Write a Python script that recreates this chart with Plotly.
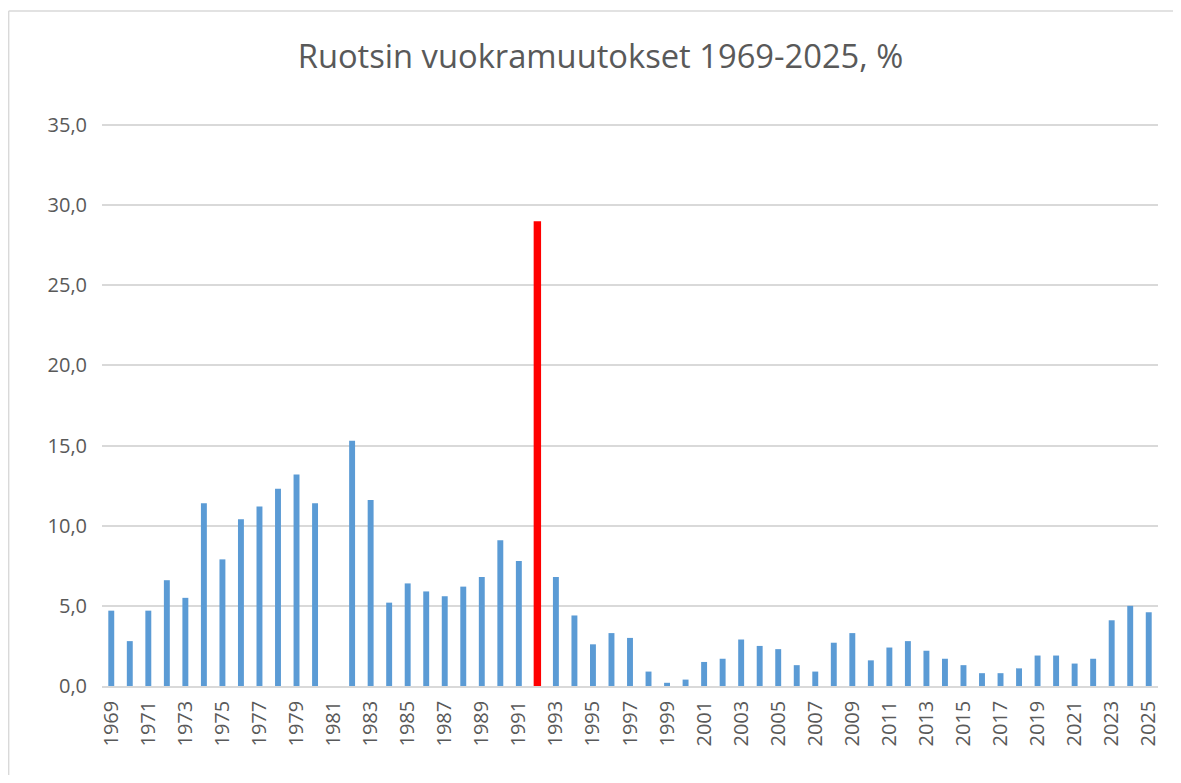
import plotly.graph_objects as go

years = list(range(1969, 2026))
muutos = [4.7, 2.8, 4.7, 6.6, 5.5, 11.4, 7.9, 10.4, 11.2, 12.3,
          13.2, 11.4, 0.0, 15.3, 11.6, 5.2, 6.4, 5.9, 5.6, 6.2,
          6.8, 9.1, 7.8, 29.0, 6.8, 4.4, 2.6, 3.3, 3.0, 0.9,
          0.2, 0.4, 1.5, 1.7, 2.9, 2.5, 2.3, 1.3, 0.9, 2.7,
          3.3, 1.6, 2.4, 2.8, 2.2, 1.7, 1.3, 0.8, 0.8, 1.1,
          1.9, 1.9, 1.4, 1.7, 4.1, 5.0, 4.6]
korostus = 1992  # red bar
tick_years = list(range(1969, 2026, 2))

colors = ["#FF0000" if y == korostus else "#5B9BD5" for y in years]
widths = [0.4 if y == korostus else 0.32 for y in years]

fig = go.Figure()
fig.add_trace(
    go.Bar(
        x=years,
        y=muutos,
        width=widths,
        marker=dict(color=colors, line=dict(width=0)),
        hovertemplate="%{x}: %{y:.1f}<extra></extra>",
    )
)

grey = "#595959"
border = "#D9D9D9"
# page body has an 8px margin, so the figure is a bit smaller than the window
# plot area is made a little taller than 35 so the top gridline shows
fig.update_layout(
    width=1165,
    height=767,
    margin=dict(l=94, r=13, t=112, b=89),
    paper_bgcolor="white",
    plot_bgcolor="white",
    separators=", ",
    font=dict(family="Open Sans", size=20, color=grey),
    title=dict(
        text="Ruotsin vuokramuutokset 1969-2025, %",
        x=(600.5 - 8) / 1165,
        xanchor="center",
        y=1 - (57 - 8) / 767,
        yanchor="middle",
        font=dict(size=32.7, color=grey),
    ),
    showlegend=False,
    xaxis=dict(
        range=[1968.5, 2025.5],
        tickmode="array",
        tickvals=tick_years,
        ticktext=[str(y) for y in tick_years],
        tickangle=-90,
        showgrid=False,
        showline=True,
        linecolor=border,
        linewidth=1.5,
        zeroline=False,
        ticks="outside",
        ticklen=5,
        tickcolor="rgba(0,0,0,0)",
    ),
    yaxis=dict(
        range=[0, 35.31],
        tickvals=[0, 5, 10, 15, 20, 25, 30, 35],
        tickformat=".1f",
        gridcolor=border,
        gridwidth=1.5,
        zeroline=False,
        showline=False,
        ticks="outside",
        ticklen=10,
        tickcolor="rgba(0,0,0,0)",
    ),
    # chart frame: only the top and left edges fall inside the picture
    shapes=[
        dict(type="line", xref="paper", yref="paper",
             x0=-0.0884, x1=1.05, y0=1.1926, y1=1.1926,
             line=dict(color=border, width=1.5), layer="below"),
        dict(type="line", xref="paper", yref="paper",
             x0=-0.0884, x1=-0.0884, y0=-0.3, y1=1.1926,
             line=dict(color=border, width=1.5), layer="below"),
    ],
)

fig.write_html("out.html")
